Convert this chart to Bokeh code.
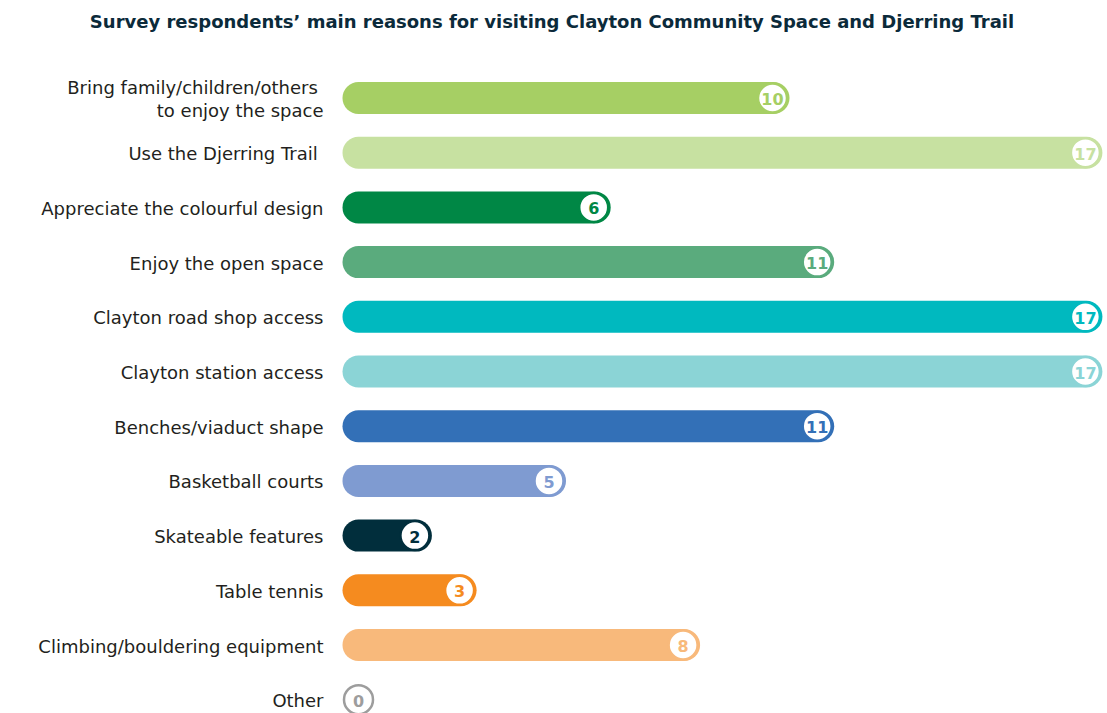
from bokeh.plotting import figure
from bokeh.models import Range1d, ColumnDataSource, Label
from bokeh.core.properties import value
from bokeh.embed import file_html
from bokeh.resources import INLINE
import numpy as np

categories = [
    "Bring family/children/others \nto enjoy the space",
    "Use the Djerring Trail ",
    "Appreciate the colourful design",
    "Enjoy the open space",
    "Clayton road shop access",
    "Clayton station access",
    "Benches/viaduct shape",
    "Basketball courts",
    "Skateable features",
    "Table tennis",
    "Climbing/bouldering equipment",
    "Other",
]
counts = [10, 17, 6, 11, 17, 17, 11, 5, 2, 3, 8, 0]
colors = ["#a6cf64", "#c7e1a1", "#008745", "#5aab7d", "#00b9bf", "#8bd4d6",
          "#3370b7", "#7f9bd1", "#012e3c", "#f58b1f", "#f8b97b", "#9d9d9d"]
title_text = "Survey respondents\u2019 main reasons for visiting Clayton Community Space and Djerring Trail"

W, H = 1107, 713
px_per_unit = 44.7
x0_px = 342
row0_px, row_step = 97.5, 54.7

xs = -x0_px / px_per_unit
xe = (W - x0_px) / px_per_unit
y_top = -row0_px / row_step
y_bot = (H - row0_px) / row_step

vals = np.array(counts, dtype=float)
idx = np.arange(len(categories))
circ_x = np.maximum(vals - 17 / px_per_unit, 16 / px_per_unit)

src = ColumnDataSource(dict(
    y=idx, v=vals, cat=categories, color=colors, cx=circ_x,
    lbl=[str(c) for c in counts],
))

p = figure(width=W, height=H, output_backend="svg", toolbar_location=None,
           x_range=Range1d(xs, xe), y_range=Range1d(y_bot, y_top),
           min_border=0, outline_line_color=None)
p.axis.visible = False
p.grid.visible = False
p.background_fill_color = "white"
p.border_fill_color = "white"

bar_h = 32 / row_step
p.hbar(y="y", left=0, right="v", height=bar_h, color="color", source=src,
       border_radius=16, line_color=None)
p.scatter(x="cx", y="y", size=29, fill_color="white", line_color="color",
          line_width=2.5, source=src)
p.text(x="cx", y="y", text="lbl", text_color="color", text_align="center",
       text_baseline="middle", text_font=value("DejaVu Sans"),
       text_font_style="bold", text_font_size="16px", source=src, y_offset=1)
p.text(x=0, y="y", text="cat", text_color="#231f20", text_align="right",
       text_baseline="middle", text_font=value("DejaVu Sans"),
       text_font_size="18px", text_line_height=1.05, x_offset=-19, y_offset=1,
       source=src)

p.add_layout(Label(x=W / 2 - 2, y=H - 21, x_units="screen", y_units="screen",
                   text=title_text, text_align="center", text_baseline="middle",
                   text_font="DejaVu Sans", text_font_style="bold",
                   text_font_size="18px", text_color="#0b2a3a"))

open("out.html", "w").write(file_html(p, INLINE))
